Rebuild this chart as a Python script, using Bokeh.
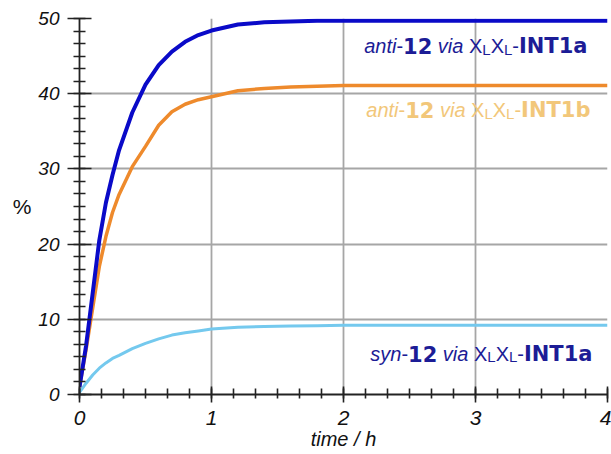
from bokeh.plotting import figure
from bokeh.models import Label, SingleIntervalTicker, Range1d
from bokeh.embed import file_html
from bokeh.resources import INLINE

# ---- data ----
time_h = [0, 0.05, 0.1, 0.15, 0.2, 0.25, 0.3, 0.4, 0.5, 0.6, 0.7, 0.8, 0.9,
          1.0, 1.2, 1.4, 1.6, 1.8, 2.0, 2.5, 3.0, 3.5, 4.0]
anti_int1a = [1.0, 6.5, 13.5, 20.5, 25.5, 29.2, 32.5, 37.5, 41.2, 43.8, 45.6, 46.9, 47.8,
              48.4, 49.2, 49.5, 49.6, 49.7, 49.7, 49.7, 49.7, 49.7, 49.7]
anti_int1b = [1.0, 6.0, 11.5, 17.0, 21.0, 24.2, 26.6, 30.3, 33.0, 35.8, 37.6, 38.6, 39.2,
              39.6, 40.4, 40.7, 40.9, 41.0, 41.1, 41.1, 41.1, 41.1, 41.1]
syn_int1a = [0.3, 1.5, 2.6, 3.5, 4.2, 4.8, 5.2, 6.1, 6.8, 7.4, 7.9, 8.2, 8.45,
             8.7, 8.95, 9.05, 9.1, 9.15, 9.2, 9.2, 9.2, 9.2, 9.2]

x_ticks_interval = 1
y_ticks_interval = 10
x_label = "time / h"
y_label = "%"

BLUE = "#0a0ac8"
ORANGE = "#ee8a2c"
CYAN = "#74c9ee"
NAVY = "#1c1c96"
PALE_ORANGE = "#f2c77a"

W, H = 611, 454
p = figure(width=W, height=H, x_range=Range1d(0, 4), y_range=Range1d(0, 50),
           output_backend="svg", toolbar_location=None,
           min_border_left=79, min_border_right=4, min_border_top=18, min_border_bottom=60)
p.outline_line_color = None
p.background_fill_color = "white"
p.border_fill_color = "white"

p.xaxis.ticker = SingleIntervalTicker(interval=x_ticks_interval, num_minor_ticks=6)
p.yaxis.ticker = SingleIntervalTicker(interval=y_ticks_interval, num_minor_ticks=6)

for ax in (p.xaxis, p.yaxis):
    ax.axis_line_color = "#222222"
    ax.axis_line_width = 1.8
    ax.major_tick_line_color = "#222222"
    ax.major_tick_line_width = 1.6
    ax.minor_tick_line_color = "#222222"
    ax.minor_tick_line_width = 1.6
    ax.major_label_text_font = "Liberation Sans"
    ax.major_label_text_font_style = "italic"
    ax.major_label_text_color = "#111111"
    ax.axis_label_text_font = "Liberation Sans"
    ax.axis_label_text_color = "#111111"

p.yaxis.major_tick_in = 12
p.yaxis.major_tick_out = 12
p.yaxis.minor_tick_in = 6
p.yaxis.minor_tick_out = 6
p.yaxis.major_label_standoff = 8
p.yaxis.major_label_text_font_size = "19px"
p.yaxis.axis_label = y_label
p.yaxis.axis_label_orientation = "horizontal"
p.yaxis.axis_label_text_font_style = "normal"
p.yaxis.axis_label_text_font_size = "21px"
p.yaxis.axis_label_standoff = 4

p.xaxis.major_tick_in = 8
p.xaxis.major_tick_out = 8
p.xaxis.minor_tick_in = 6
p.xaxis.minor_tick_out = 4
p.xaxis.major_label_standoff = 8
p.xaxis.major_label_text_font_size = "21px"
p.xaxis.axis_label = x_label
p.xaxis.axis_label_text_font_style = "italic"
p.xaxis.axis_label_text_font_size = "20px"
p.xaxis.axis_label_standoff = 0
p.xaxis.axis_label_text_baseline = "middle"

for g in (p.xgrid, p.ygrid):
    g.grid_line_color = "#a6a6a6"
    g.grid_line_width = 1.8

p.line(time_h, syn_int1a, line_color=CYAN, line_width=3)
p.line(time_h, anti_int1b, line_color=ORANGE, line_width=3.5)
p.line(time_h, anti_int1a, line_color=BLUE, line_width=4)

# ---- mixed-style annotations ----
ARIAL = {'a': 0.556, 'n': 0.556, 't': 0.278, 'i': 0.222, 'v': 0.5, 's': 0.5, 'y': 0.5,
         'X': 0.667, 'L': 0.556, '-': 0.333}
DJB = {'1': 0.696, '2': 0.696, 'I': 0.372, 'N': 0.837, 'T': 0.683, 'a': 0.675, 'b': 0.716}
STY = {
    'it': ("Liberation Sans", 20, "italic", ARIAL, 0.0),
    'rm': ("Liberation Sans", 20, "normal", ARIAL, 0.0),
    'bf': ("DejaVu Sans", 21, "bold", DJB, 0.0),
    'sub': ("Liberation Sans", 15, "normal", ARIAL, 0.38),
}
SPACE = 0.278 * 20

FRAME_RIGHT_PX = 607  # picture x of data x=4


def rich_label(segments, y, right_px, color):
    widths = []
    for txt, st in segments:
        if st == 'sp':
            widths.append(SPACE)
        else:
            font, size, style, table, _ = STY[st]
            widths.append(sum(table[c] for c in txt) * size)
    total = sum(widths)
    pos = right_px - FRAME_RIGHT_PX - total
    for (txt, st), w in zip(segments, widths):
        if st != 'sp':
            font, size, style, table, drop = STY[st]
            p.add_layout(Label(x=4, y=y - drop, x_offset=pos, text=txt,
                               text_font=font, text_font_size=f"{size}px",
                               text_font_style=style, text_color=color,
                               text_align="left", text_baseline="alphabetic"))
        pos += w


def xlxl(suffix):
    return [("X", 'rm'), ("L", 'sub'), ("X", 'rm'), ("L", 'sub'), ("-", 'rm'), (suffix, 'bf')]


rich_label([("anti", 'it'), ("-", 'rm'), ("12", 'bf'), ("", 'sp'), ("via", 'it'), ("", 'sp')]
           + xlxl("INT1a"), 46.3, 587, NAVY)
rich_label([("anti", 'it'), ("-", 'rm'), ("12", 'bf'), ("", 'sp'), ("via", 'it'), ("", 'sp')]
           + xlxl("INT1b"), 37.8, 590, PALE_ORANGE)
rich_label([("syn", 'it'), ("-", 'rm'), ("12", 'bf'), ("", 'sp'), ("via", 'it'), ("", 'sp')]
           + xlxl("INT1a"), 5.45, 592, NAVY)

open("out.html", "w").write(file_html(p, INLINE))
